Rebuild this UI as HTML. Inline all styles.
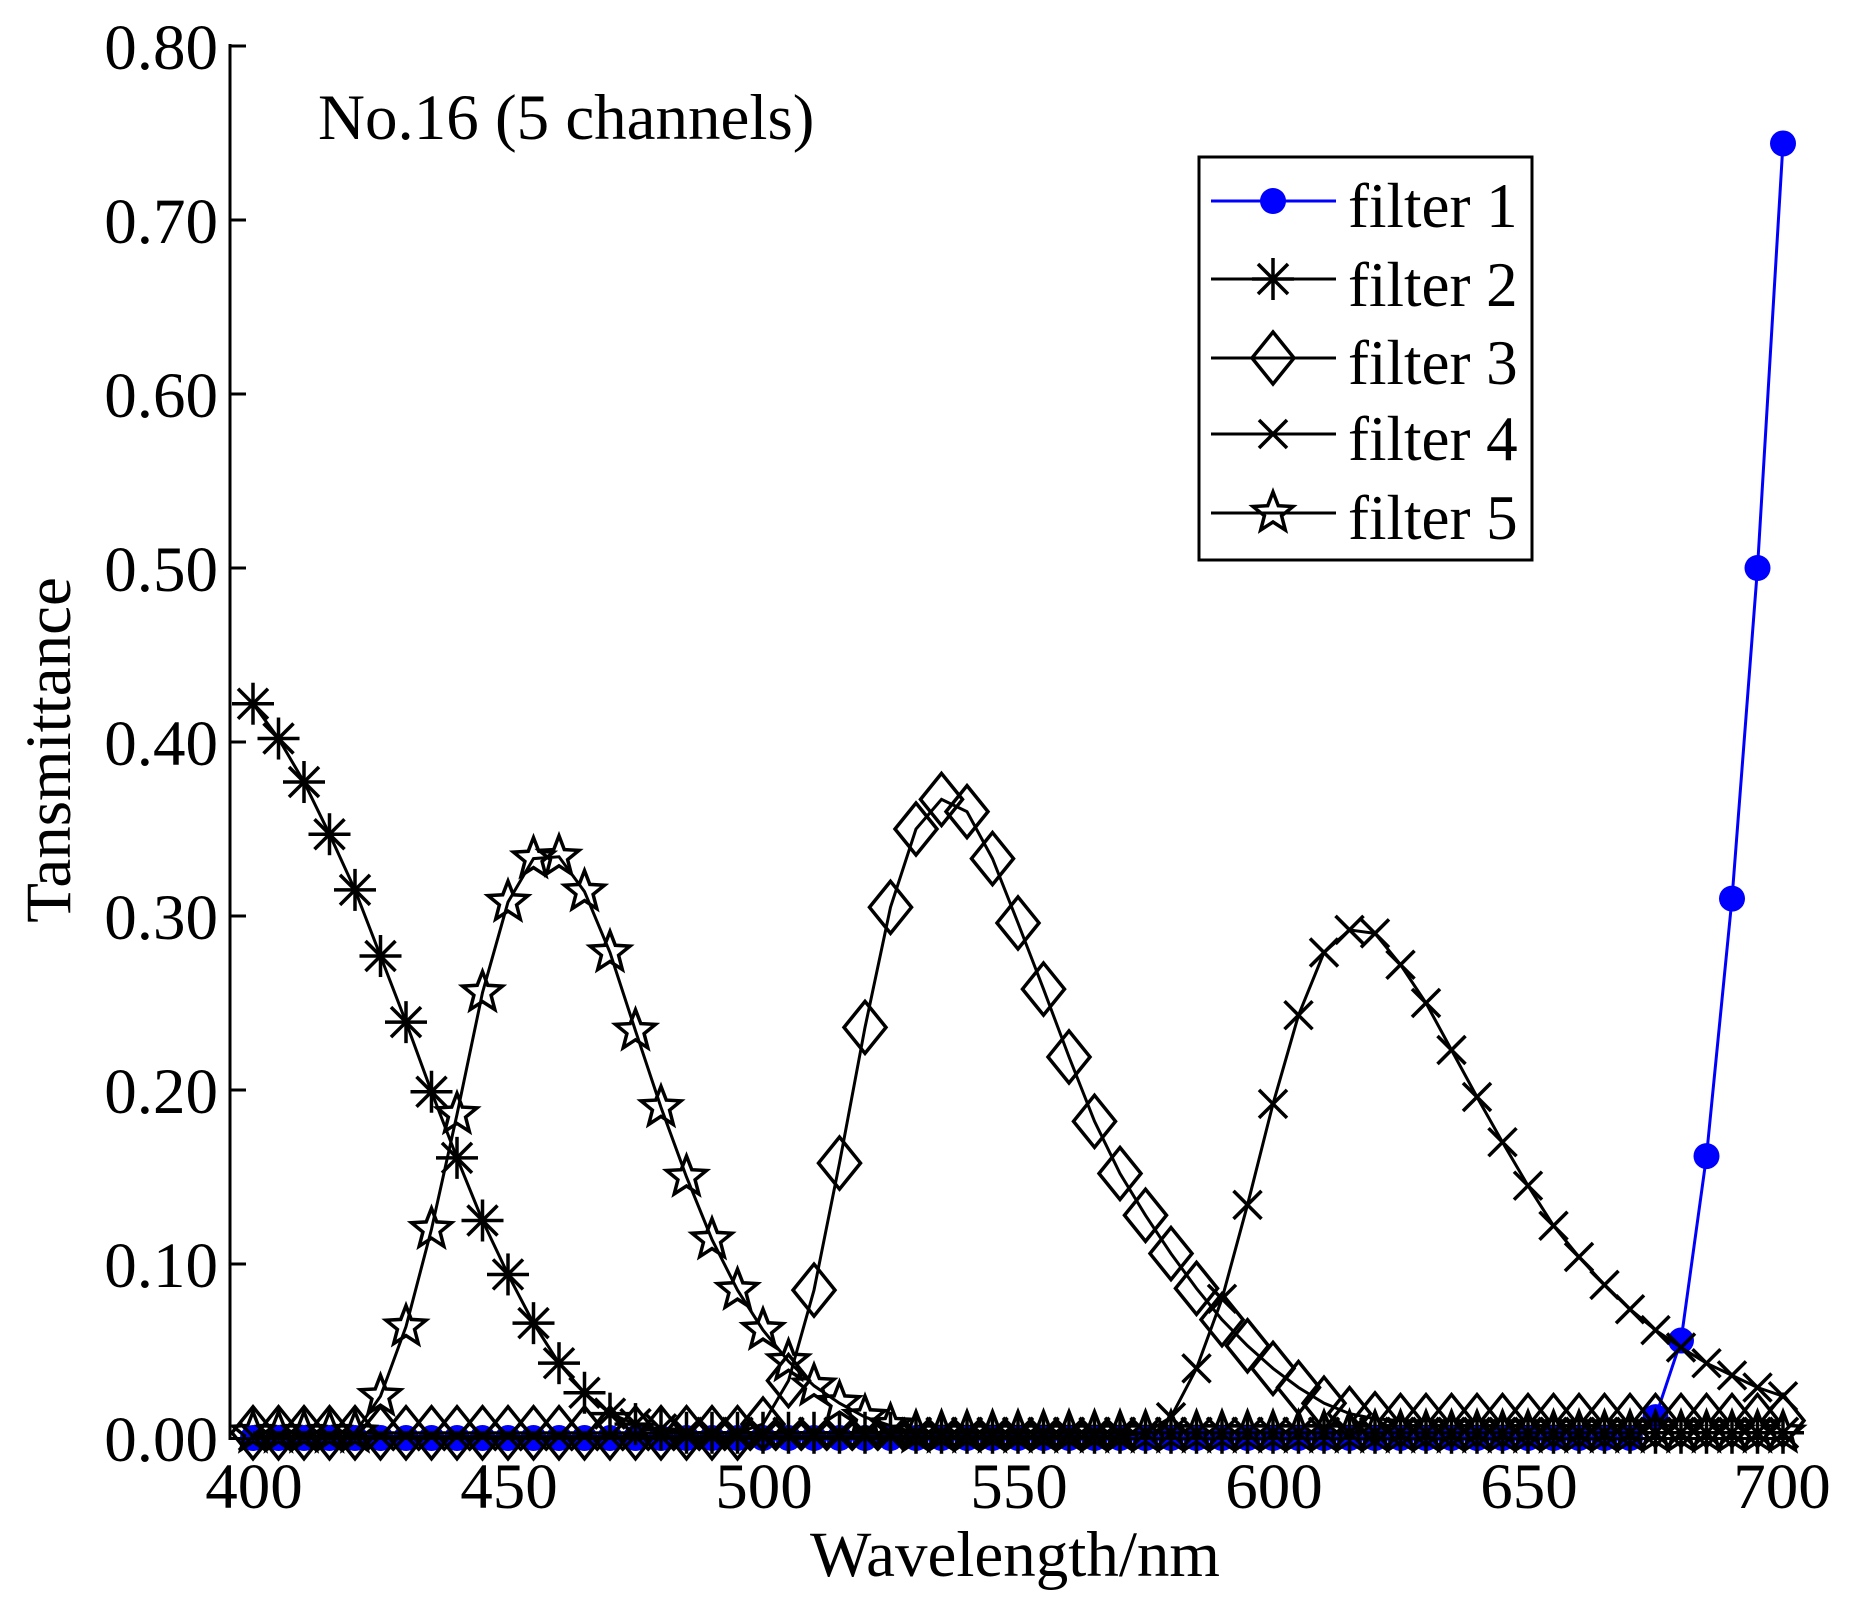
<!DOCTYPE html>
<html><head><meta charset="utf-8"><style>
html,body{margin:0;padding:0;background:#fff;}
svg{display:block;}
text{font-family:"Liberation Serif","Times New Roman",serif;fill:#000;}
</style></head><body>
<svg id="s" width="1860" height="1604" viewBox="0 0 1860 1604" xmlns="http://www.w3.org/2000/svg">
<rect width="1860" height="1604" fill="#fff"/>
<g id="plot"></g>
<line x1="230" y1="44" x2="230" y2="1440" stroke="#000" stroke-width="3"/>
<line x1="230" y1="1438.5" x2="1790" y2="1438.5" stroke="#000" stroke-width="3"/>
<g stroke="#000" stroke-width="3">
<line x1="230" y1="46" x2="246" y2="46"/>
<line x1="230" y1="220" x2="246" y2="220"/>
<line x1="230" y1="394" x2="246" y2="394"/>
<line x1="230" y1="568" x2="246" y2="568"/>
<line x1="230" y1="742" x2="246" y2="742"/>
<line x1="230" y1="916" x2="246" y2="916"/>
<line x1="230" y1="1090" x2="246" y2="1090"/>
<line x1="230" y1="1264" x2="246" y2="1264"/>
</g>
<g font-size="65" text-anchor="end">
<text x="218" y="69">0.80</text>
<text x="218" y="243">0.70</text>
<text x="218" y="417">0.60</text>
<text x="218" y="591">0.50</text>
<text x="218" y="765">0.40</text>
<text x="218" y="939">0.30</text>
<text x="218" y="1113">0.20</text>
<text x="218" y="1287">0.10</text>
<text x="218" y="1461">0.00</text>
</g>
<g font-size="65" text-anchor="middle">
<text x="254" y="1508">400</text>
<text x="509" y="1508">450</text>
<text x="764" y="1508">500</text>
<text x="1019" y="1508">550</text>
<text x="1274" y="1508">600</text>
<text x="1529" y="1508">650</text>
<text x="1782" y="1508">700</text>
</g>
<text x="1015" y="1576" font-size="65" text-anchor="middle">Wavelength/nm</text>
<text transform="translate(70,750) rotate(-90)" font-size="65" text-anchor="middle">Tansmittance</text>
<text x="318" y="139" font-size="65">No.16 (5 channels)</text>
<rect x="1199" y="157" width="333" height="403" fill="#fff" stroke="#000" stroke-width="3"/>
<g id="leg"></g>
<g font-size="63">
<text x="1348" y="227">filter 1</text>
<text x="1348" y="306">filter 2</text>
<text x="1348" y="384">filter 3</text>
<text x="1348" y="460">filter 4</text>
<text x="1348" y="539">filter 5</text>
</g>
</svg>
<script>
var X=function(l){return 253+(l-400)*5.1;};
var Y=function(v){return 1438-1740*v;};
var lam=[];for(var l=400;l<=700;l+=5)lam.push(l);
function fill(obj,base){return lam.map(function(l){return obj[l]!==undefined?obj[l]:base;});}
var f1=fill({675:0.012,680:0.056,685:0.162,690:0.31,695:0.5,700:0.744},0.0);
var f2=fill({400:0.422,405:0.402,410:0.377,415:0.347,420:0.315,425:0.277,430:0.239,435:0.199,440:0.161,445:0.125,450:0.094,455:0.066,460:0.043,465:0.026,470:0.014,475:0.008,480:0.005},0.003);
var f3=fill({500:0.008,505:0.033,510:0.085,515:0.158,520:0.236,525:0.305,530:0.35,535:0.367,540:0.36,545:0.333,550:0.296,555:0.258,560:0.219,565:0.182,570:0.152,575:0.128,580:0.106,585:0.086,590:0.068,595:0.053,600:0.04,605:0.029,610:0.02,615:0.014,620:0.011},0.003);
for(var i=0;i<lam.length;i++){if(lam[i]>620)f3[i]=0.01;}
var f4=fill({575:0.003,580:0.012,585:0.04,590:0.08,595:0.134,600:0.192,605:0.243,610:0.279,615:0.292,620:0.29,625:0.272,630:0.25,635:0.223,640:0.196,645:0.17,650:0.145,655:0.122,660:0.104,665:0.088,670:0.074,675:0.062,680:0.052,685:0.043,690:0.036,695:0.029,700:0.024},0.001);
var f5=fill({425:0.024,430:0.064,435:0.12,440:0.186,445:0.256,450:0.308,455:0.333,460:0.334,465:0.314,470:0.279,475:0.234,480:0.19,485:0.15,490:0.114,495:0.085,500:0.062,505:0.044,510:0.03,515:0.02,520:0.012,525:0.007},0.003);
function line(d,c){return '<polyline fill="none" stroke="'+c+'" stroke-width="3" points="'+lam.map(function(l,i){return X(l).toFixed(1)+','+Y(d[i]).toFixed(1);}).join(' ')+'"/>';}
function mk(t,x,y){
 if(t==1)return '<circle cx="'+x+'" cy="'+y+'" r="13" fill="#0000ff"/>';
 if(t==2)return '<g stroke="#000" stroke-width="3.5"><line x1="'+(x-21)+'" y1="'+y+'" x2="'+(x+21)+'" y2="'+y+'"/><line x1="'+x+'" y1="'+(y-21)+'" x2="'+x+'" y2="'+(y+21)+'"/><line x1="'+(x-15)+'" y1="'+(y-15)+'" x2="'+(x+15)+'" y2="'+(y+15)+'"/><line x1="'+(x-15)+'" y1="'+(y+15)+'" x2="'+(x+15)+'" y2="'+(y-15)+'"/></g>';
 if(t==3)return '<polygon points="'+x+','+(y-26)+' '+(x+21)+','+y+' '+x+','+(y+26)+' '+(x-21)+','+y+'" fill="none" stroke="#000" stroke-width="3.5"/>';
 if(t==4)return '<g stroke="#000" stroke-width="3.5"><line x1="'+(x-14)+'" y1="'+(y-14)+'" x2="'+(x+14)+'" y2="'+(y+14)+'"/><line x1="'+(x-14)+'" y1="'+(y+14)+'" x2="'+(x+14)+'" y2="'+(y-14)+'"/></g>';
 if(t==5){var p=[];for(var k=0;k<10;k++){var r=k%2?9:21;var a=-Math.PI/2+k*Math.PI/5;p.push((x+r*Math.cos(a)).toFixed(1)+','+(y+r*Math.sin(a)).toFixed(1));}
   return '<polygon points="'+p.join(' ')+'" fill="none" stroke="#000" stroke-width="3.5"/>';}
}
var h='';var all=[[f1,'#0000ff',1],[f2,'#000',2],[f3,'#000',3],[f4,'#000',4],[f5,'#000',5]];
all.forEach(function(s){h+=line(s[0],s[1]);lam.forEach(function(l,i){h+=mk(s[2],X(l),Y(s[0][i]));});});
document.getElementById('plot').innerHTML=h;
var g='';var ry=[201,279,358,434,513];
all.forEach(function(s,i){g+='<line x1="1211" y1="'+ry[i]+'" x2="1336" y2="'+ry[i]+'" stroke="'+s[1]+'" stroke-width="3"/>'+mk(s[2],1273,ry[i]);});
document.getElementById('leg').innerHTML=g;
</script>
</body></html>
